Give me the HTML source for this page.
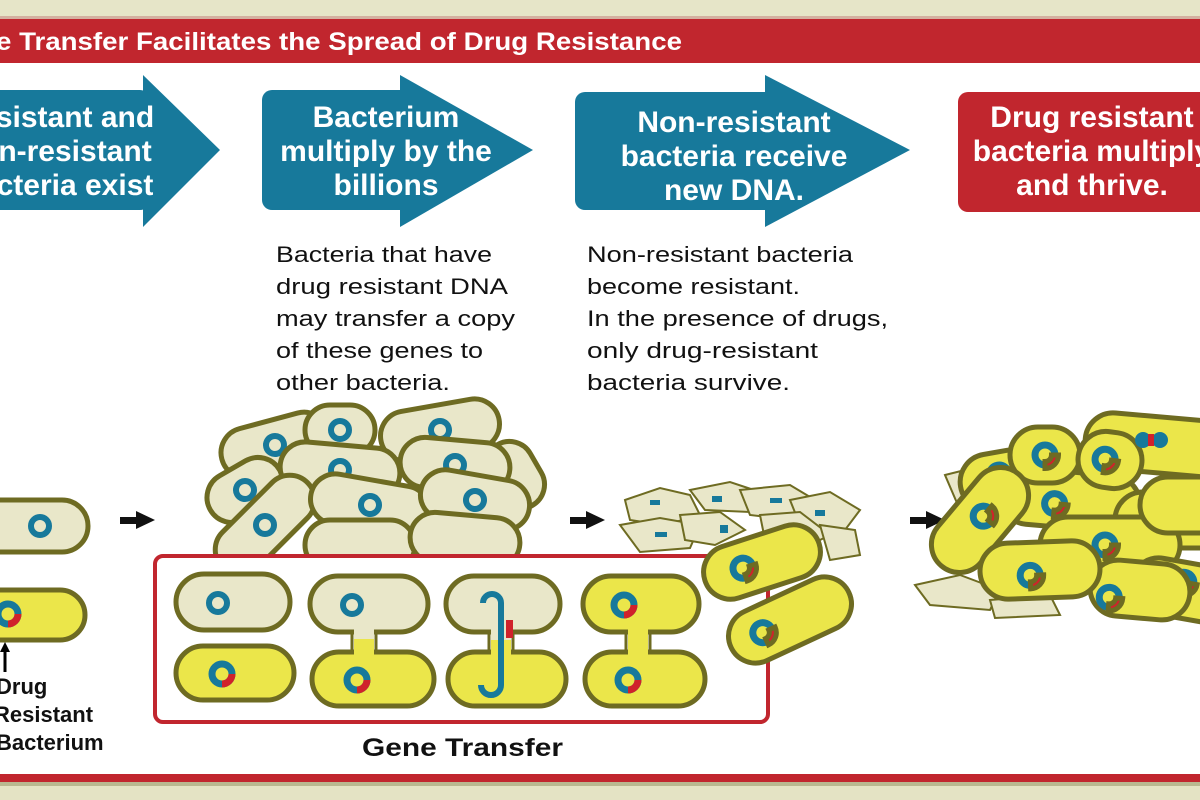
<!DOCTYPE html>
<html><head><meta charset="utf-8"><style>
html,body{margin:0;padding:0;width:1200px;height:800px;overflow:hidden;background:#fff;}
svg{display:block;font-family:"Liberation Sans",Arial,sans-serif;}
</style></head><body>
<svg width="1200" height="800" viewBox="0 0 1200 800" xmlns="http://www.w3.org/2000/svg">
<defs>
<symbol id="nb" overflow="visible"><circle r="9" fill="none" stroke="#17799b" stroke-width="6"/></symbol>
<symbol id="nr" overflow="visible"><circle r="10" fill="none" stroke="#17799b" stroke-width="7"/><path d="M13.5,0 A13.5,13.5 0 0 1 0,13.5 L0,6.5 A6.5,6.5 0 0 0 6.5,0 Z" fill="#d0222b"/></symbol>
</defs>
<rect x="0" y="0" width="1200" height="16" fill="#e6e5c8"/>
<rect x="0" y="16" width="1200" height="3" fill="#d4b0a0"/>
<rect x="0" y="19" width="1200" height="44" fill="#c1262e"/>
<text x="-4" y="50" fill="#fff" font-size="25" font-weight="bold" textLength="686" lengthAdjust="spacingAndGlyphs">e Transfer Facilitates the Spread of Drug Resistance</text>
<rect x="0" y="774" width="1200" height="8" fill="#c1262e"/>
<rect x="0" y="782" width="1200" height="18" fill="#e4e3c4"/>
<rect x="0" y="782" width="1200" height="4" fill="#b9b890"/>

<g fill="#17799b">
<rect x="-20" y="90" width="170" height="120" rx="10"/><polygon points="143,75 220,150 143,227"/>
<rect x="262" y="90" width="150" height="120" rx="10"/><polygon points="400,75 533,150 400,227"/>
<rect x="575" y="92" width="200" height="118" rx="10"/><polygon points="765,75 910,150 765,227"/>
</g>
<rect x="958" y="92" width="260" height="120" rx="10" fill="#c1262e"/>
<g fill="#fff" font-size="30" font-weight="bold" text-anchor="middle">
<text x="75" y="127">sistant and</text><text x="75" y="161">n-resistant</text><text x="75" y="195">cteria exist</text>
<text x="386" y="127">Bacterium</text><text x="386" y="161">multiply by the</text><text x="386" y="195">billions</text>
<text x="734" y="132">Non-resistant</text><text x="734" y="166">bacteria receive</text><text x="734" y="200">new DNA.</text>
<text x="1092" y="127">Drug resistant</text><text x="1092" y="161">bacteria multiply</text><text x="1092" y="195">and thrive.</text>
</g>
<g font-size="22" fill="#111">
<text x="276" y="262" textLength="216" lengthAdjust="spacingAndGlyphs">Bacteria that have</text><text x="276" y="294" textLength="232" lengthAdjust="spacingAndGlyphs">drug resistant DNA</text><text x="276" y="326" textLength="239" lengthAdjust="spacingAndGlyphs">may transfer a copy</text><text x="276" y="358" textLength="207" lengthAdjust="spacingAndGlyphs">of these genes to</text><text x="276" y="390" textLength="174" lengthAdjust="spacingAndGlyphs">other bacteria.</text>
<text x="587" y="262" textLength="266" lengthAdjust="spacingAndGlyphs">Non-resistant bacteria</text><text x="587" y="294" textLength="213" lengthAdjust="spacingAndGlyphs">become resistant.</text><text x="587" y="326" textLength="301" lengthAdjust="spacingAndGlyphs">In the presence of drugs,</text><text x="587" y="358" textLength="231" lengthAdjust="spacingAndGlyphs">only drug-resistant</text><text x="587" y="390" textLength="203" lengthAdjust="spacingAndGlyphs">bacteria survive.</text>
</g>

<g stroke="#6e6b22" stroke-width="5">
<rect x="-30" y="500" width="118" height="52" rx="26" fill="#e9e7c9"/>
<rect x="-30" y="590" width="115" height="50" rx="25" fill="#ebe64a"/>
</g>
<use href="#nb" x="40" y="526"/><use href="#nr" x="8" y="614"/>
<path d="M5,672 V650" stroke="#000" stroke-width="3"/><polygon points="0,652 5,642 10,652" fill="#000"/>
<g font-size="22" font-weight="bold" fill="#111"><text x="-4" y="694">Drug</text><text x="-6" y="722">Resistant</text><text x="-4" y="750">Bacterium</text></g>

<g fill="#111">
<rect x="120" y="517" width="18" height="7"/><polygon points="136,511 155,520 136,529"/>
<rect x="570" y="517" width="18" height="7"/><polygon points="586,511 605,520 586,529"/>
<rect x="910" y="517" width="18" height="7"/><polygon points="926,511 945,520 926,529"/>
</g>

<g stroke="#6e6b22" stroke-width="5" fill="#e9e7c9">
<g transform="translate(275,445) rotate(-15)"><rect x="-55" y="-25" width="110" height="50" rx="25"/><use href="#nb" x="0" y="0"/></g>
<g transform="translate(340,430)"><rect x="-35" y="-25" width="70" height="50" rx="25"/><use href="#nb" x="0" y="0"/></g>
<g transform="translate(440,430) rotate(-10)"><rect x="-60" y="-25" width="120" height="50" rx="25"/><use href="#nb" x="0" y="0"/></g>
<g transform="translate(515,475) rotate(60)"><rect x="-35" y="-24" width="70" height="48" rx="24"/></g>
<g transform="translate(245,490) rotate(-30)"><rect x="-40" y="-25" width="80" height="50" rx="25"/><use href="#nb" x="0" y="0"/></g>
<g transform="translate(340,470) rotate(5)"><rect x="-60" y="-25" width="120" height="50" rx="25"/><use href="#nb" x="0" y="0"/></g>
<g transform="translate(455,465) rotate(5)"><rect x="-55" y="-25" width="110" height="50" rx="25"/><use href="#nb" x="0" y="0"/></g>
<g transform="translate(265,525) rotate(-45)"><rect x="-60" y="-25" width="120" height="50" rx="25"/><use href="#nb" x="0" y="0"/></g>
<g transform="translate(370,505) rotate(10)"><rect x="-60" y="-25" width="120" height="50" rx="25"/><use href="#nb" x="0" y="0"/></g>
<g transform="translate(475,500) rotate(10)"><rect x="-55" y="-25" width="110" height="50" rx="25"/><use href="#nb" x="0" y="0"/></g>
<g transform="translate(360,545)"><rect x="-55" y="-25" width="110" height="50" rx="25"/></g>
<g transform="translate(465,540) rotate(5)"><rect x="-55" y="-25" width="110" height="50" rx="25"/></g>
</g>

<rect x="155" y="556" width="613" height="166" rx="8" fill="#fff" stroke="#c1262e" stroke-width="4"/>
<g stroke="#6e6b22" stroke-width="5">
<rect x="176" y="574" width="114" height="56" rx="28" fill="#e9e7c9"/>
<rect x="176" y="646" width="118" height="54" rx="27" fill="#ebe64a"/>
<rect x="310" y="576" width="118" height="56" rx="28" fill="#e9e7c9"/>
<rect x="312" y="652" width="122" height="54" rx="27" fill="#ebe64a"/>
<rect x="446" y="576" width="114" height="56" rx="28" fill="#e9e7c9"/>
<rect x="448" y="652" width="118" height="54" rx="27" fill="#ebe64a"/>
<rect x="583" y="576" width="116" height="56" rx="28" fill="#ebe64a"/>
<rect x="585" y="652" width="120" height="54" rx="27" fill="#ebe64a"/>
</g>
<rect x="354" y="627" width="20" height="30" fill="#ebe64a"/><rect x="354" y="627" width="20" height="12" fill="#e9e7c9"/>
<rect x="491" y="627" width="20" height="30" fill="#e9e7c9"/><rect x="491" y="640" width="20" height="17" fill="#ebe64a"/>
<rect x="628" y="627" width="20" height="30" fill="#ebe64a"/>
<g stroke="#6e6b22" stroke-width="3"><path d="M352,632 V654 M376,632 V654 M489,632 V654 M513,632 V654 M626,632 V654 M650,632 V654"/></g>
<use href="#nb" x="218" y="603"/><use href="#nr" x="222" y="674"/>
<use href="#nb" x="352" y="605"/><use href="#nr" x="357" y="680"/>
<path d="M483,603 a9,9 0 1 1 18,0 V685 a10,10 0 0 1 -20,0" fill="none" stroke="#17799b" stroke-width="6"/>
<rect x="506" y="620" width="7" height="18" fill="#d0222b"/>
<use href="#nr" x="624" y="605"/><use href="#nr" x="628" y="680"/>
<text x="362" y="756" font-size="25" font-weight="bold" fill="#111" textLength="201" lengthAdjust="spacingAndGlyphs">Gene Transfer</text>

<g fill="#e9e7c9" stroke="#6e6b22" stroke-width="2">
<polygon points="625,500 660,488 690,495 700,515 665,525 630,520"/>
<polygon points="690,490 730,482 760,492 750,512 705,510"/>
<polygon points="740,490 790,485 815,500 795,520 750,515"/>
<polygon points="790,500 830,492 860,510 845,530 800,525"/>
<polygon points="620,525 660,518 700,525 690,548 640,552"/>
<polygon points="680,515 720,512 745,530 715,545 685,540"/>
<polygon points="760,515 800,512 830,535 800,550 765,540"/>
<polygon points="820,525 855,530 860,555 830,560"/>
</g>
<g fill="#17799b"><rect x="650" y="500" width="10" height="5"/><rect x="712" y="496" width="10" height="6"/><rect x="770" y="498" width="12" height="5"/><rect x="815" y="510" width="10" height="6"/><rect x="655" y="532" width="12" height="5"/><rect x="720" y="525" width="8" height="8"/><rect x="790" y="528" width="10" height="6"/></g>
<g stroke="#6e6b22" stroke-width="5" fill="#ebe64a">
<g transform="translate(762,562) rotate(-18)"><rect x="-60" y="-27" width="120" height="54" rx="27"/><use href="#nr" x="-20" y="0"/></g>
<g transform="translate(790,620) rotate(-25)"><rect x="-65" y="-27" width="130" height="54" rx="27"/><use href="#nr" x="-30" y="0"/></g>
</g>

<g fill="#e9e7c9" stroke="#6e6b22" stroke-width="2">
<polygon points="945,475 985,465 1000,500 960,510"/>
<polygon points="915,585 960,575 1000,590 990,610 930,605"/>
<polygon points="990,600 1050,595 1060,615 995,618"/>
</g>
<g stroke="#6e6b22" stroke-width="5" fill="#ebe64a">
<g transform="translate(1160,445) rotate(5)"><rect x="-75" y="-28" width="150" height="56" rx="28"/></g>
<g transform="translate(1000,480) rotate(-10)"><rect x="-40" y="-28" width="80" height="56" rx="28"/><use href="#nr" x="0" y="-5"/></g>
<g transform="translate(1070,500) rotate(5)"><rect x="-70" y="-28" width="140" height="56" rx="28"/><use href="#nr" x="-15" y="5"/></g>
<g transform="translate(1175,520) rotate(0)"><rect x="-60" y="-28" width="120" height="56" rx="28"/></g>
<g transform="translate(1110,545) rotate(0)"><rect x="-70" y="-28" width="140" height="56" rx="28"/><use href="#nr" x="-5" y="0"/></g>
<g transform="translate(1210,595) rotate(10)"><rect x="-80" y="-28" width="160" height="56" rx="28"/><use href="#nr" x="-28" y="-8"/></g>
<g transform="translate(1140,590) rotate(5)"><rect x="-50" y="-28" width="100" height="56" rx="28"/><use href="#nr" x="-30" y="10"/></g>
<g transform="translate(1045,455)"><rect x="-35" y="-28" width="70" height="56" rx="28"/><use href="#nr" x="0" y="0"/></g>
<g transform="translate(1110,460) rotate(8)"><rect x="-32" y="-28" width="64" height="56" rx="28"/><use href="#nr" x="-5" y="0"/></g>
<g transform="translate(980,520) rotate(-50)"><rect x="-60" y="-28" width="120" height="56" rx="28"/><use href="#nr" x="5" y="0"/></g>
<g transform="translate(1190,505)"><rect x="-50" y="-28" width="100" height="56" rx="28"/></g>
<g transform="translate(1040,570) rotate(-2)"><rect x="-60" y="-28" width="120" height="56" rx="28"/><use href="#nr" x="-10" y="5"/></g>
</g>
<g fill="#17799b"><circle cx="1143" cy="440" r="8"/><circle cx="1160" cy="440" r="8"/></g><rect x="1148" y="434" width="6" height="12" fill="#d0222b"/>
</svg>
</body></html>
